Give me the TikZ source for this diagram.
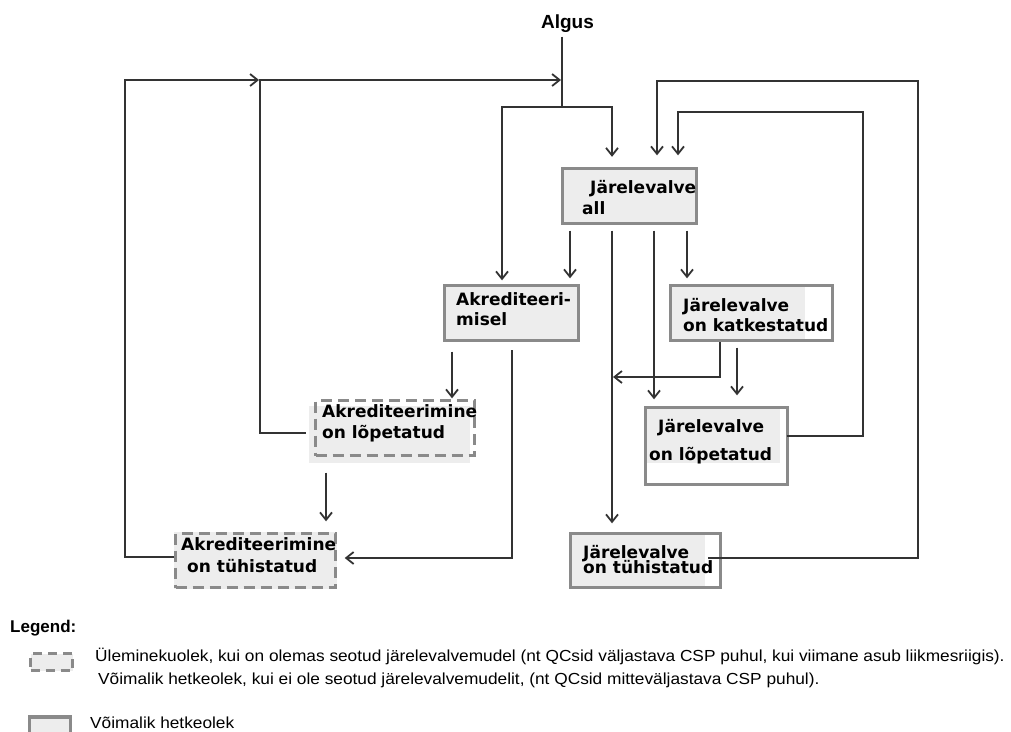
\documentclass[tikz,border=0pt]{standalone}
\usepackage{fontspec}
\setmainfont{Liberation Sans}
\newfontfamily\boxfont{DejaVu Sans}
\newfontfamily\legfont{Liberation Sans}[FakeStretch=1.08]
\usetikzlibrary{arrows.meta,calc}
\definecolor{ln}{HTML}{333333}
\definecolor{bd}{HTML}{8A8A8A}
\definecolor{fl}{HTML}{EDEDED}
\begin{document}
\begin{tikzpicture}[x=1pt,y=-1pt,
  conn/.style={draw=ln, line width=1.8pt, -{Straight Barb[length=7.5pt,width=12pt,line width=1.8pt]}},
  plain/.style={draw=ln, line width=1.8pt},
  sbox/.style={draw=bd, line width=3.4pt, rectangle, inner sep=0pt},
  dbox/.style={draw=bd, line width=3.4pt, dash pattern=on 11pt off 6pt, rectangle, inner sep=0pt},
  lbl/.style={font=\boxfont\bfseries\fontsize{17}{20}\selectfont, anchor=base west, inner sep=0pt},
  ltxt/.style={font=\legfont\fontsize{16}{18}\selectfont, anchor=west, inner sep=0pt},
]
\useasboundingbox[fill=white] (0,0) rectangle (1011,731);

% partial fills
\fill[fl] (669,284) rectangle (805,342);
\fill[fl] (644,406) rectangle (780,463);
\fill[fl] (569,532) rectangle (705,589);
\fill[fl] (309,406) rectangle (470,463);
\fill[fl] (174,532) rectangle (337,589);

% boxes
\node[sbox, fill=fl, minimum width=134pt, minimum height=55pt] (jall) at (629.5,196) {};
\node[sbox, fill=fl, minimum width=134pt, minimum height=55pt] (akmisel) at (511.5,313) {};
\node[sbox, minimum width=162pt, minimum height=55pt] (jkatk) at (751.5,313) {};
\node[sbox, minimum width=142pt, minimum height=77pt] (jlop) at (716.5,446) {};
\node[sbox, minimum width=150pt, minimum height=54pt] (jtuh) at (645.5,560.5) {};
\node[dbox, minimum width=159pt, minimum height=55pt] (aklop) at (395,428) {};
\node[dbox, minimum width=160pt, minimum height=54pt] (aktuh) at (255.5,560.5) {};

% texts
\node[font=\bfseries\fontsize{19}{22}\selectfont, anchor=base, inner sep=0pt] (algus) at (567.5,28.5) {Algus};
\node[lbl] (t1a) at (590,193) {Järelevalve};
\node[lbl] (t1b) at (582,214) {all};
\node[lbl] (t2a) at (456,305) {Akrediteeri-};
\node[lbl] (t2b) at (456,325) {misel};
\node[lbl] (t3a) at (683,311) {Järelevalve};
\node[lbl] (t3b) at (683,331) {on katkestatud};
\node[lbl] (t4a) at (658,432) {Järelevalve};
\node[lbl] (t4b) at (649,460) {on lõpetatud};
\node[lbl] (t5a) at (583,558) {Järelevalve};
\node[lbl] (t5b) at (583,573) {on tühistatud};
\node[lbl] (t6a) at (322,417) {Akrediteerimine};
\node[lbl] (t6b) at (322,438) {on lõpetatud};
\node[lbl] (t7a) at (181,550) {Akrediteerimine};
\node[lbl] (t7b) at (187,572) {on tühistatud};

% channel coordinates
\coordinate (split) at (562,107);
\coordinate (xA) at (502,107);
\coordinate (xB) at (612,107);
\coordinate (cA) at (570,0);
\coordinate (cC) at (654,0);
\coordinate (cD) at (687,0);
\coordinate (cE) at (720,377);
\coordinate (cF) at (737,0);
\coordinate (cG) at (678,0);
\coordinate (cH) at (657,0);
\coordinate (cI) at (452,0);
\coordinate (cJ) at (512,558);
\coordinate (cK) at (326,0);
\coordinate (r1) at (863,112);
\coordinate (r2) at (918,81);
\coordinate (t0) at (125,80);
\coordinate (t1) at (260,80);

% connectors
\draw[plain, shorten <=4pt] (split |- algus.south) -- (split);
\draw[conn, shorten >=3.5pt] (split) -- (xA) -- (xA |- akmisel.north);
\draw[conn, shorten >=10pt] (split) -- (xB) -- (xB |- jall.north);
\draw[conn, shorten <=5.5pt, shorten >=5.5pt] (cA |- jall.south) -- (cA |- akmisel.north);
\draw[conn, shorten <=5.5pt, shorten >=8.5pt] (xB |- jall.south) -- (xB |- jtuh.north);
\draw[conn, shorten <=5.5pt, shorten >=6.5pt] (cC |- jall.south) -- (cC |- jlop.north);
\draw[conn, shorten <=5.5pt, shorten >=5.5pt] (cD |- jall.south) -- (cD |- jkatk.north);
\draw[conn, shorten >=1pt] (cE |- jkatk.south) -- (cE) -- (xB |- cE);
\draw[conn, shorten <=5.5pt, shorten >=10.5pt] (cF |- jkatk.south) -- (cF |- jlop.north);
\draw[conn, shorten >=11.5pt] ([xshift=-2.5pt,yshift=10pt]jlop.east) -| (r1) -- (cG |- r1) -- (cG |- jall.north);
\draw[conn, shorten >=11.5pt] ([xshift=-14pt,yshift=2.5pt]jtuh.east) -| (r2) -- (cH |- r2) -- (cH |- jall.north);
\draw[conn, shorten <=9.5pt, shorten >=0.5pt] (cI |- akmisel.south) -- (cI |- aklop.north);
\draw[conn, shorten >=7.5pt] (cJ |- akmisel.south) ++(0,8) |- ([yshift=2.5pt]aktuh.east);
\draw[conn, shorten <=15.5pt, shorten >=10.5pt] (cK |- aklop.south) -- (cK |- aktuh.north);
\draw[conn, shorten <=8pt, shorten >=1pt] ([yshift=-5pt]aklop.west) -| (t1) -- (split |- t1);
\draw[conn, shorten >=1pt] ([yshift=3.5pt]aktuh.west) -| (t0) -- (t1);

% legend
\node[font=\bfseries\fontsize{17}{19}\selectfont, anchor=west, inner sep=0pt] (leg) at (10,628) {Legend:};
\node[draw=bd, fill=fl, line width=3.2pt, dash pattern=on 9pt off 6pt, minimum width=42pt, minimum height=17pt, inner sep=0pt] (ic1) at (51.5,662) {};
\node[draw=bd, fill=fl, line width=3.2pt, minimum width=41pt, minimum height=20pt, inner sep=0pt] (ic2) at (50,727) {};
\node[ltxt] (lt1) at (95,656) {Üleminekuolek, kui on olemas seotud järelevalvemudel (nt QCsid väljastava CSP puhul, kui viimane asub liikmesriigis).};
\node[ltxt] (lt2) at (98,680) {Võimalik hetkeolek, kui ei ole seotud järelevalvemudelit, (nt QCsid mitteväljastava CSP puhul).};
\node[ltxt] (lt3) at (90,723) {Võimalik hetkeolek};
\end{tikzpicture}
\end{document}
